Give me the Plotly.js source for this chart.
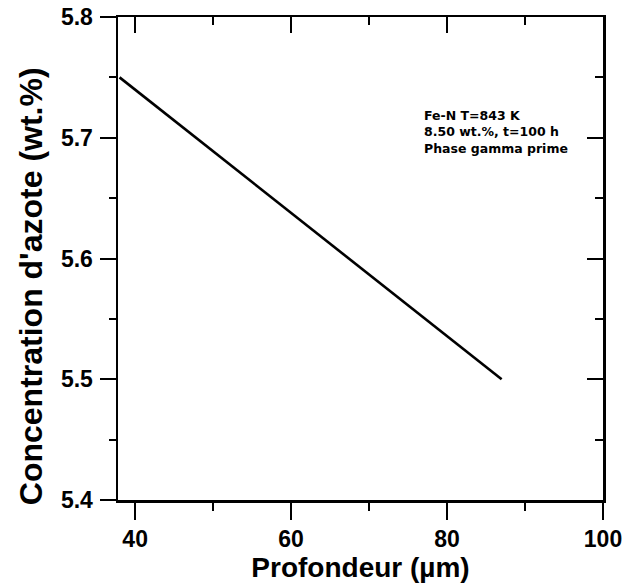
<!DOCTYPE html>
<html>
<head>
<meta charset="utf-8">
<script src="https://cdn.plot.ly/plotly-3.0.1.min.js"></script>
<style>
  html, body { margin: 0; padding: 0; background: #ffffff; }
  #chart { width: 622px; height: 586px; }
</style>
</head>
<body>
<div id="chart"></div>
<script>
// Nitrogen concentration profile in the gamma-prime layer (Fe-N, 843 K)
const depth = [38, 87];            // Profondeur (µm)
const concentration = [5.75, 5.5]; // Concentration d'azote (wt.%)

const xRange = [37.8, 100];
const yRange = [5.4, 5.8];
const xTicks = [40, 60, 80, 100];
const yTicks = [5.4, 5.5, 5.6, 5.7, 5.8];

const xLabel = 'Profondeur (µm)';
const yLabel = 'Concentration d\'azote (wt.%)';
const note = [
  'Fe-N T=843 K',
  '8.50 wt.%, t=100 h',
  'Phase gamma prime'
];

const FONT = 'Liberation Sans, Arial, sans-serif';
const NOTE_FONT = 'DejaVu Sans, Verdana, sans-serif';

const bold = s => '<b>' + s + '</b>';

const profile = {
  x: depth,
  y: concentration,
  type: 'scatter',
  mode: 'lines',
  line: { color: '#000000', width: 2.6 },
  hoverinfo: 'skip',
  showlegend: false
};

// Invisible copy on the secondary axes so the top/right frames are drawn
const frame = {
  x: depth,
  y: concentration,
  xaxis: 'x2',
  yaxis: 'y2',
  type: 'scatter',
  mode: 'lines',
  line: { color: 'rgba(0,0,0,0)', width: 0 },
  hoverinfo: 'skip',
  showlegend: false
};

const layout = {
  width: 622,
  height: 586,
  margin: { l: 118, r: 19, t: 17, b: 86 },
  paper_bgcolor: '#ffffff',
  plot_bgcolor: '#ffffff',
  font: { family: FONT, color: '#000000' },
  showlegend: false,
  xaxis: {
    range: xRange,
    tickvals: xTicks,
    ticktext: xTicks.map(v => bold(String(v))),
    ticks: 'outside',
    ticklen: 17,
    tickwidth: 2,
    tickcolor: '#000000',
    ticklabeloverflow: 'allow',
    minor: { dtick: 10, tick0: 30, ticks: 'outside', ticklen: 8, tickwidth: 2, tickcolor: '#000000', showgrid: false },
    showline: true,
    linewidth: 2.5,
    linecolor: '#000000',
    showgrid: false,
    zeroline: false,
    tickfont: { family: FONT, size: 23, color: '#000000' },
    title: {
      text: bold(xLabel),
      font: { family: FONT, size: 28, color: '#000000' },
      standoff: 5
    },
    automargin: false
  },
  yaxis: {
    range: yRange,
    tickvals: yTicks,
    ticktext: yTicks.map(v => bold(v.toFixed(1))),
    ticks: 'outside',
    ticklen: 16,
    tickwidth: 2,
    tickcolor: '#000000',
    ticklabelstandoff: 2,
    minor: { dtick: 0.05, tick0: 5.35, ticks: 'outside', ticklen: 7, tickwidth: 2, tickcolor: '#000000', showgrid: false },
    showline: true,
    linewidth: 2.5,
    linecolor: '#000000',
    showgrid: false,
    zeroline: false,
    tickfont: { family: FONT, size: 23, color: '#000000' },
    automargin: false
  },
  xaxis2: {
    overlaying: 'x',
    side: 'top',
    range: xRange,
    tickvals: xTicks,
    ticks: 'inside',
    ticklen: 16,
    tickwidth: 2,
    tickcolor: '#000000',
    minor: { dtick: 10, tick0: 30, ticks: 'inside', ticklen: 8, tickwidth: 2, tickcolor: '#000000', showgrid: false },
    showticklabels: false,
    showline: true,
    linewidth: 2.5,
    linecolor: '#000000',
    showgrid: false,
    zeroline: false
  },
  yaxis2: {
    overlaying: 'y',
    side: 'right',
    range: yRange,
    tickvals: yTicks,
    ticks: 'inside',
    ticklen: 16,
    tickwidth: 2,
    tickcolor: '#000000',
    minor: { dtick: 0.05, tick0: 5.35, ticks: 'inside', ticklen: 8, tickwidth: 2, tickcolor: '#000000', showgrid: false },
    showticklabels: false,
    showline: true,
    linewidth: 2.5,
    linecolor: '#000000',
    showgrid: false,
    zeroline: false
  },
  annotations: [
    {
      // vertical axis title, set a little below the plot's mid-height
      xref: 'paper',
      yref: 'paper',
      x: -0.179,
      y: 0.443,
      xanchor: 'center',
      yanchor: 'middle',
      textangle: -90,
      showarrow: false,
      text: bold(yLabel),
      font: { family: FONT, size: 32, color: '#000000' }
    },
    {
      xref: 'paper',
      yref: 'paper',
      x: 0.627,
      y: 0.762,
      xanchor: 'left',
      yanchor: 'middle',
      showarrow: false,
      align: 'left',
      text: note.map(bold).join('<br>'),
      font: { family: NOTE_FONT, size: 12.5, color: '#000000' }
    }
  ]
};

Plotly.newPlot('chart', [profile, frame], layout, { displayModeBar: false, staticPlot: true });
</script>
</body>
</html>
